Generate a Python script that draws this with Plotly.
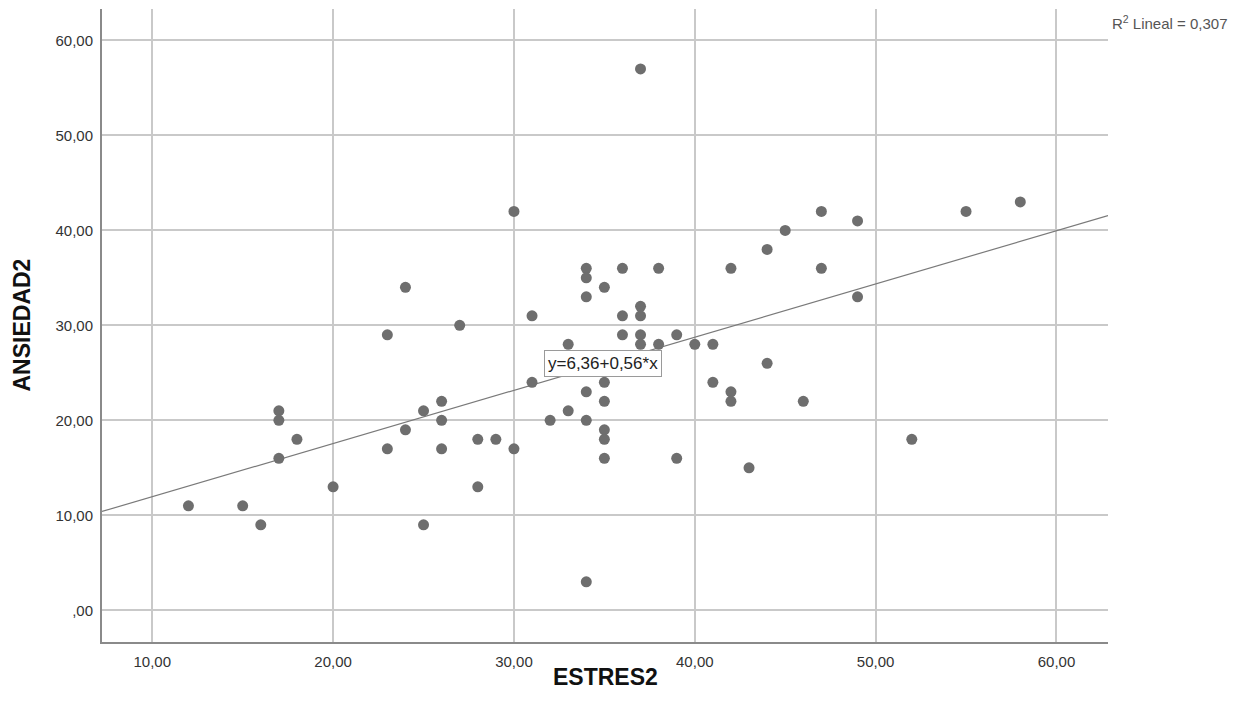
import plotly.graph_objects as go
import numpy as np

# ---- data ----
estres2 = [12, 15, 16, 17, 17, 17, 18, 20, 23, 23, 24, 24, 25, 25, 26, 26, 26,
           27, 28, 28, 29, 30, 30, 31, 31, 32, 33, 33,
           34, 34, 34, 34, 34, 34, 35, 35, 35, 35, 35, 35,
           36, 36, 36, 37, 37, 37, 37, 37, 38, 38, 39, 39, 40, 41, 41,
           42, 42, 42, 43, 44, 44, 45, 46, 47, 47, 49, 49, 52, 55, 58]
ansiedad2 = [11, 11, 9, 21, 20, 16, 18, 13, 29, 17, 34, 19, 21, 9, 22, 20, 17,
             30, 18, 13, 18, 42, 17, 31, 24, 20, 28, 21,
             36, 35, 33, 23, 20, 3, 34, 24, 22, 19, 18, 16,
             36, 31, 29, 57, 32, 31, 29, 28, 36, 28, 29, 16, 28, 28, 24,
             36, 23, 22, 15, 38, 26, 40, 22, 42, 36, 41, 33, 18, 42, 43]

fit_intercept = 6.36
fit_slope = 0.56
r2_text = "R<sup>2</sup> Lineal = 0,307"
eq_text = "y=6,36+0,56*x"

x_ticks = [10, 20, 30, 40, 50, 60]
x_ticklabels = ["10,00", "20,00", "30,00", "40,00", "50,00", "60,00"]
y_ticks = [0, 10, 20, 30, 40, 50, 60]
y_ticklabels = [",00", "10,00", "20,00", "30,00", "40,00", "50,00", "60,00"]

x_range = [7.22, 62.85]
y_range = [-3.34, 63.31]

fig = go.Figure()

# regression line across the full axis range
line_x = np.array(x_range)
line_y = fit_intercept + fit_slope * line_x
fig.add_trace(go.Scatter(x=line_x, y=line_y, mode="lines",
                         line=dict(color="#7a7a7a", width=1.2),
                         hoverinfo="skip", showlegend=False))

fig.add_trace(go.Scatter(x=estres2, y=ansiedad2, mode="markers",
                         marker=dict(color="#6e6e6e", size=11, line=dict(width=0)),
                         showlegend=False))

font_fam = "Liberation Sans, Arial, sans-serif"

fig.update_layout(
    width=1244, height=715,
    margin=dict(l=102, r=136, t=9, b=73),
    paper_bgcolor="white", plot_bgcolor="white",
    font=dict(family=font_fam, color="#333333"),
    xaxis=dict(range=x_range, tickvals=x_ticks, ticktext=x_ticklabels,
               showgrid=True, gridcolor="#c9c9c9", gridwidth=1.5,
               zeroline=False, showline=True, linecolor="#8a8a8a", linewidth=2,
               ticks="", tickfont=dict(size=15, color="#333333"), ticklabelstandoff=5),
    yaxis=dict(range=y_range, tickvals=y_ticks, ticktext=y_ticklabels,
               showgrid=True, gridcolor="#c9c9c9", gridwidth=1.5,
               zeroline=False, showline=True, linecolor="#8a8a8a", linewidth=2,
               ticks="", tickfont=dict(size=15, color="#333333"), ticklabelstandoff=4),
    annotations=[
        dict(text="<b>ESTRES2</b>", xref="paper", yref="paper", x=0.5, y=-0.0553,
             xanchor="center", yanchor="middle", showarrow=False,
             font=dict(size=23, color="#111111", family=font_fam)),
        dict(text="<b>ANSIEDAD2</b>", xref="paper", yref="paper", x=-0.0805, y=0.5,
             xanchor="center", yanchor="middle", showarrow=False, textangle=-90,
             font=dict(size=23, color="#111111", family=font_fam)),
        dict(text=r2_text, xref="paper", yref="paper", x=1.002, y=(633 - 14) / 633,
             xanchor="left", yanchor="middle", showarrow=False,
             font=dict(size=15, color="#555555", family=font_fam)),
        dict(text=eq_text, xref="x", yref="y", x=34.9, y=26.0,
             xanchor="center", yanchor="middle", showarrow=False,
             bgcolor="white", bordercolor="#9a9a9a", borderwidth=1, borderpad=3,
             font=dict(size=17, color="#222222", family=font_fam)),
    ],
)

fig.write_html("out.html", config={"displayModeBar": False},
               post_script="document.body.style.margin='0';")
